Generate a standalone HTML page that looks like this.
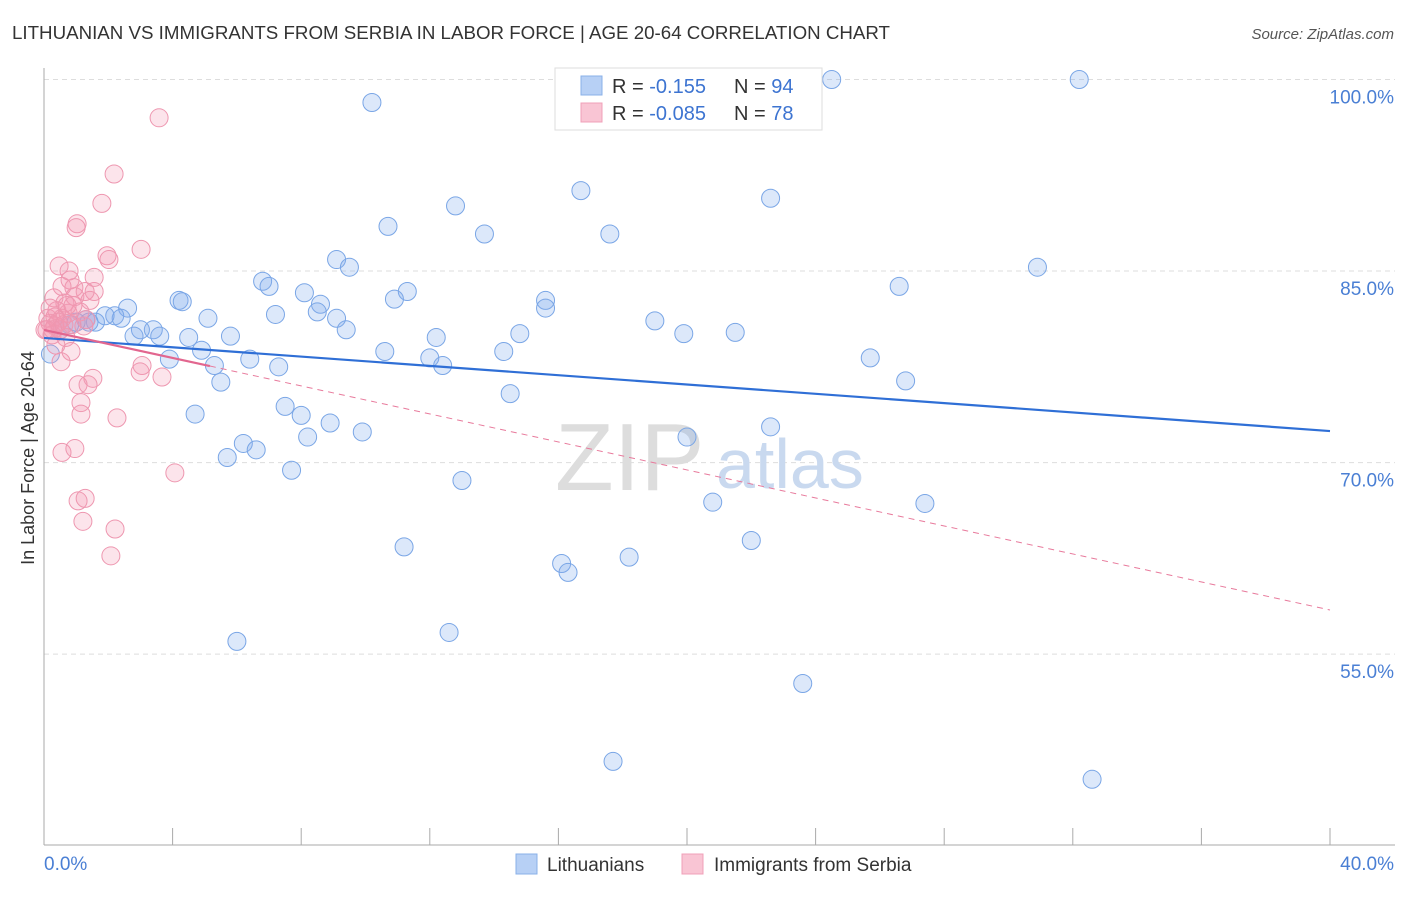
<!DOCTYPE html>
<html><head><meta charset="utf-8">
<style>
body{margin:0;background:#fff;font-family:"Liberation Sans",sans-serif;}
svg text{font-family:"Liberation Sans",sans-serif;}
</style></head>
<body>
<svg id="chart" width="1406" height="892" xmlns="http://www.w3.org/2000/svg">
<text x="12" y="39" font-size="18" fill="#333" textLength="878" lengthAdjust="spacingAndGlyphs">LITHUANIAN VS IMMIGRANTS FROM SERBIA IN LABOR FORCE | AGE 20-64 CORRELATION CHART</text>
<text x="1394" y="39" font-size="15" fill="#555" text-anchor="end" font-style="italic">Source: ZipAtlas.com</text>
<g id="grid"></g>
<g>
<text x="555" y="490" font-size="96" fill="#ddd" font-family="Liberation Serif,serif">ZIP</text>
<text x="716" y="488" font-size="70" fill="#c9d9ef">atlas</text>
</g>
<line x1="44" y1="68" x2="44" y2="845" stroke="#aaa"/>
<line x1="44" y1="845" x2="1395" y2="845" stroke="#aaa"/>
<text transform="translate(34,458) rotate(-90)" text-anchor="middle" font-size="18" fill="#333">In Labor Force | Age 20-64</text>
<text x="44" y="870" font-size="19" fill="#4a7fd4">0.0%</text>
<text x="1394" y="870" font-size="19" fill="#4a7fd4" text-anchor="end">40.0%</text>
<g id="ticks"></g>
<g id="points"></g>
<g id="trends"></g>
<g>
<rect x="555" y="68" width="267" height="62" fill="#fff" stroke="#ddd"/>
<rect x="581" y="76" width="21" height="19" fill="#b7d0f5" stroke="#8ab0e8"/>
<rect x="581" y="103" width="21" height="19" fill="#f9c5d4" stroke="#f0a0b8"/>
<text x="612" y="93" font-size="20" fill="#333">R = <tspan fill="#3d74d1"> -0.155</tspan><tspan x="734">N = </tspan><tspan fill="#3d74d1">94</tspan></text>
<text x="612" y="120" font-size="20" fill="#333">R = <tspan fill="#3d74d1">-0.085</tspan><tspan x="734">N = </tspan><tspan fill="#3d74d1">78</tspan></text>
</g>
<g>
<rect x="516" y="854" width="21" height="20" fill="#b7d0f5" stroke="#8ab0e8"/>
<text x="547" y="871" font-size="19" fill="#333">Lithuanians</text>
</g>
<g>
<rect x="682" y="854" width="21" height="20" fill="#f9c5d4" stroke="#f0a0b8"/>
<text x="714" y="871" font-size="19" fill="#333">Immigrants from Serbia</text>
</g>
</svg>
<script>
const yTicks=[100,85,70,55];
const xTickVals=[0,4,8,12,16,20,24,28,32,36,40];
const blueX=[24.5,32.2,10.2,16.7,22.6,12.8,10.7,13.7,17.6,9.1,9.5,30.9,6.8,7.0,26.6,8.1,4.2,4.3,8.6,11.3,10.9,15.6,15.6,2.6,5.1,7.2,8.5,9.1,19.0,2.2,2.4,1.9,9.4,12.2,3.4,3.0,4.5,5.8,14.8,19.9,21.5,3.6,2.8,1.6,1.4,1.3,4.9,10.6,14.3,12.0,12.4,6.4,7.3,3.9,5.3,25.7,26.8,5.5,14.5,7.5,4.7,8.0,8.9,9.9,22.6,20.0,8.2,6.2,6.6,5.7,7.7,13.0,20.8,27.4,11.2,22.0,18.2,16.1,16.3,6.0,12.6,23.6,17.7,32.6,0.2,0.5,0.8,1.0];
const blueY=[100.0,100.0,98.2,91.3,90.7,90.1,88.5,87.9,87.9,85.9,85.3,85.3,84.2,83.8,83.8,83.3,82.7,82.6,82.4,83.4,82.8,82.7,82.1,82.1,81.3,81.6,81.8,81.3,81.1,81.5,81.3,81.5,80.4,79.8,80.4,80.4,79.8,79.9,80.1,80.1,80.2,79.9,79.9,81.0,81.0,81.2,78.8,78.7,78.7,78.2,77.6,78.1,77.5,78.1,77.6,78.2,76.4,76.3,75.4,74.4,73.8,73.7,73.1,72.4,72.8,72.0,72.0,71.5,71.0,70.4,69.4,68.6,66.9,66.8,63.4,63.9,62.6,62.1,61.4,56.0,56.7,52.7,46.6,45.2,78.5,80.4,80.8,81.0];
const pinkX=[3.58,2.18,1.8,1.03,1.0,3.02,1.96,2.02,0.47,0.78,1.56,0.81,0.93,1.56,1.28,0.31,1.43,0.65,0.4,1.12,0.56,1.31,0.19,0.34,0.5,0.25,0.68,0.87,1.24,0.12,0.75,0.96,0.56,0.03,0.84,0.53,3.05,2.99,3.67,1.52,1.06,1.37,1.15,1.15,2.27,0.56,0.96,4.07,1.06,1.28,1.21,2.21,2.08,0.19,0.34,0.44,0.62,0.28,0.72,0.9,0.09,0.37];
const pinkY=[97.0,92.6,90.3,88.7,88.4,86.7,86.2,85.9,85.4,85.0,84.5,84.3,83.7,83.4,83.4,82.9,82.7,82.5,81.9,81.8,81.3,81.2,80.9,80.7,80.4,80.0,79.8,80.8,80.7,81.3,81.7,83.0,83.8,80.4,78.7,77.9,77.6,77.1,76.7,76.6,76.1,76.1,74.7,73.8,73.5,70.8,71.1,69.2,67.0,67.2,65.4,64.8,62.7,82.1,81.4,81.0,80.8,80.4,82.3,82.3,80.4,79.2];
const blueTrend=[79.76,72.47];
const pinkTrend=[80.39,58.46];
const pinkSolidEnd=5.16;

const NS="http://www.w3.org/2000/svg";
const sx=v=>44+v*1286/40;
const sy=v=>79.5+(100-v)*12.77;
function mk(tag,attrs,parent){const e=document.createElementNS(NS,tag);for(const k in attrs)e.setAttribute(k,attrs[k]);parent.appendChild(e);return e;}
const grid=document.getElementById('grid');
yTicks.forEach(t=>{
  const l=mk('line',{x1:44,x2:1395,y1:sy(t),y2:sy(t),stroke:'#ddd','stroke-dasharray':'5,4'},grid);
  
  
  const tx=mk('text',{x:1394,y:sy(t)+24,'font-size':19,fill:'#4a7fd4','text-anchor':'end'},grid);
  tx.textContent=t.toFixed(1)+'%';
  
  
});
const ticks=document.getElementById('ticks');
xTickVals.forEach(t=>{
  const l=mk('line',{x1:sx(t),x2:sx(t),y1:828,y2:845,stroke:'#aaa'},ticks);
  
  
});
const pts=document.getElementById('points');
blueX.forEach((x,i)=>{
  const c=mk('circle',{cx:sx(x),cy:sy(blueY[i]),r:9,fill:'rgba(130,172,238,0.28)',stroke:'#7aa6e6','stroke-width':1},pts);
  
  
});
pinkX.forEach((x,i)=>{
  const c=mk('circle',{cx:sx(x),cy:sy(pinkY[i]),r:9,fill:'rgba(244,150,178,0.26)',stroke:'#ee97b0','stroke-width':1},pts);
  
  
});
const tr=document.getElementById('trends');
const bl=mk('line',{x1:sx(0),y1:sy(blueTrend[0]),x2:sx(40),y2:sy(blueTrend[1]),stroke:'#2f6fd6','stroke-width':2.2},tr);


const pAt=x=>pinkTrend[0]+(pinkTrend[1]-pinkTrend[0])*x/40;
const pd=mk('line',{x1:sx(pinkSolidEnd),y1:sy(pAt(pinkSolidEnd)),x2:sx(40),y2:sy(pinkTrend[1]),stroke:'#e87a9c','stroke-width':1,'stroke-dasharray':'6,5'},tr);


const ps=mk('line',{x1:sx(0),y1:sy(pinkTrend[0]),x2:sx(pinkSolidEnd),y2:sy(pAt(pinkSolidEnd)),stroke:'#e2668f','stroke-width':2.2},tr);


</script>
</body></html>
